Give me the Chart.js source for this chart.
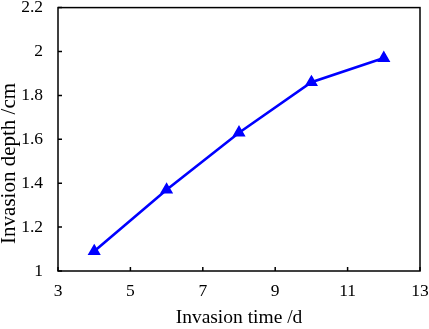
<!DOCTYPE html>
<html>
<head>
<meta charset="utf-8">
<script src="https://cdn.jsdelivr.net/npm/chart.js@4"></script>
<style>
  html, body { margin: 0; padding: 0; background: #fff; }
  #wrap { width: 429px; height: 329px; }
</style>
</head>
<body>
<div id="wrap"><canvas id="chart" width="429" height="329"></canvas></div>
<script>
// data
const invasionTime = [4, 6, 8, 10, 12]
const invasionDepth = [1.09, 1.37, 1.63, 1.86, 1.97]
const xTicks = [3, 5, 7, 9, 11, 13]
const yTicks = [1, 1.2, 1.4, 1.6, 1.8, 2, 2.2]
const yTitle = 'Invasion depth /cm'

const points = invasionTime.map((t, i) => ({ x: t, y: invasionDepth[i] }))

const fam = '"Liberation Serif", "Times New Roman", serif'
const tickFont = { family: fam, size: 17.5 }
const titleFont = { family: fam, size: 19.5 }

// frame + inward ticks + y title (sits a bit below the axis middle in the original)
const frame = {
  id: 'frame',
  afterDatasetsDraw(chart) {
    const { ctx, chartArea: a, scales } = chart
    ctx.save()
    ctx.strokeStyle = '#000'
    ctx.lineWidth = 1.5
    ctx.strokeRect(a.left, a.top, a.right - a.left, a.bottom - a.top)
    ctx.beginPath()
    xTicks.forEach(v => {
      const px = scales.x.getPixelForValue(v)
      ctx.moveTo(px, a.bottom)
      ctx.lineTo(px, a.bottom - 4)
    })
    yTicks.forEach(v => {
      const py = scales.y.getPixelForValue(v)
      ctx.moveTo(a.left, py)
      ctx.lineTo(a.left + 4, py)
    })
    ctx.stroke()

    ctx.translate(9, scales.y.getPixelForValue(1.49))
    ctx.rotate(-Math.PI / 2)
    ctx.font = '21px ' + fam
    ctx.fillStyle = '#000'
    ctx.textAlign = 'center'
    ctx.textBaseline = 'middle'
    ctx.fillText(yTitle, 0, 0)
    ctx.restore()
  }
}

new Chart(document.getElementById('chart'), {
  type: 'line',
  data: {
    datasets: [{
      data: points,
      borderColor: '#0000ff',
      backgroundColor: '#0000ff',
      borderWidth: 2.6,
      pointStyle: 'triangle',
      pointRadius: 5,
      pointHoverRadius: 5,
      tension: 0
    }]
  },
  options: {
    responsive: false,
    animation: false,
    layout: { padding: { top: 6, right: 9, left: 0, bottom: 0 } },
    plugins: { legend: { display: false }, tooltip: { enabled: false } },
    scales: {
      x: {
        type: 'linear',
        min: 3, max: 13,
        afterBuildTicks: s => { s.ticks = xTicks.map(v => ({ value: v })) },
        afterFit: s => { s.height = 58; s.paddingLeft = 0; s.paddingRight = 0 },
        grid: { display: false, drawTicks: false },
        border: { display: false },
        ticks: { font: tickFont, color: '#000', padding: 10, maxRotation: 0 },
        title: { display: true, text: 'Invasion time /d', font: titleFont, color: '#000', padding: { top: 0, bottom: -1 } }
      },
      y: {
        min: 1, max: 2.2,
        afterBuildTicks: s => { s.ticks = yTicks.map(v => ({ value: v })) },
        afterFit: s => { s.width = 58; s.paddingTop = 0; s.paddingBottom = 0 },
        grid: { display: false, drawTicks: false },
        border: { display: false },
        ticks: { font: tickFont, color: '#000', padding: 15, callback: v => String(Math.round(v * 10) / 10) },
        title: { display: false }
      }
    }
  },
  plugins: [frame]
})
</script>
</body>
</html>
